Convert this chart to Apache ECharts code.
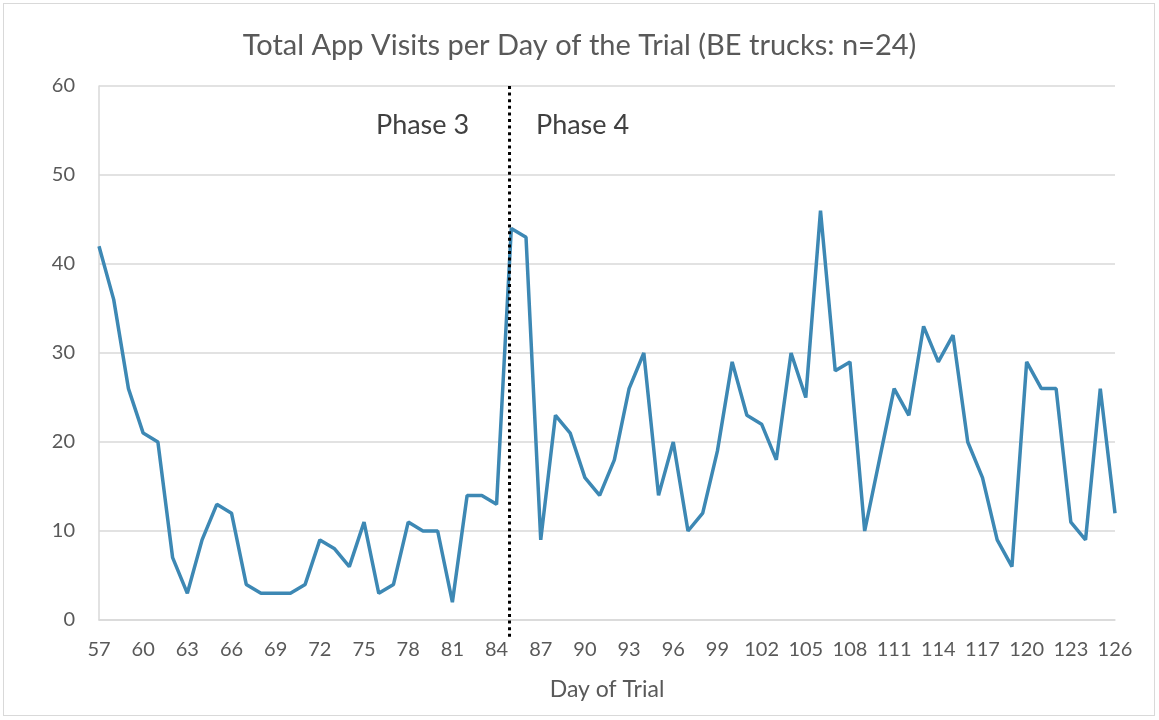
<!DOCTYPE html>
<html>
<head>
<meta charset="utf-8">
<title>Total App Visits per Day of the Trial</title>
<script src="https://cdn.jsdelivr.net/npm/echarts@6/dist/echarts.min.js"></script>
<style>
  html, body { margin:0; padding:0; background:#fff; }
  #main { position:absolute; left:0; top:0; width:1159px; height:720px; }
  #frame { position:absolute; left:3px; top:3px; width:1152px; height:713px; border:1px solid #d9d9d9; box-sizing:border-box; pointer-events:none; }
</style>
</head>
<body>
<div id="main"></div>
<div id="frame"></div>
<script>
// days of the trial (57..126)
var days = [57,58,59,60,61,62,63,64,65,66,67,68,69,70,71,72,73,74,75,76,77,78,79,80,81,82,83,84,85,86,87,88,89,90,91,92,93,94,95,96,97,98,99,100,101,102,103,104,105,106,107,108,109,110,111,112,113,114,115,116,117,118,119,120,121,122,123,124,125,126];
// total app visits per day
var visits = [42,36,26,21,20,7,3,9,13,12,4,3,3,3,4,9,8,6,11,3,4,11,10,10,2,14,14,13,44,43,9,23,21,16,14,18,26,30,14,20,10,12,19,29,23,22,18,30,25,46,28,29,10,18,26,23,33,29,32,20,16,9,6,29,26,26,11,9,26,12];
// dotted separator between phase 3 and phase 4 (runs a little below the axis)
var splitDay = [84.88, 84.88];
var splitY = [60, -1.9];
var phaseLabels = ['Phase 3', 'Phase 4'];

var font = 'Lato, "Open Sans", sans-serif';
var textColor = '#595959';

var seriesData = [];
for (var i = 0; i < days.length; i++) {
  seriesData.push([days[i], visits[i]]);
}
var splitData = [];
for (var j = 0; j < splitDay.length; j++) {
  splitData.push([splitDay[j], splitY[j]]);
}

var chart = echarts.init(document.getElementById('main'), null, {renderer:'canvas'});
var option = {
  animation: false,
  title: {
    text: 'Total App Visits per Day of the Trial (BE trucks: n=24)',
    left: 'center',
    top: 26,
    textStyle: { color: textColor, fontSize: 29, fontWeight: 'normal', fontFamily: font }
  },
  grid: { left: 99, right: 44, top: 86, bottom: 100 },
  xAxis: {
    type: 'value',
    min: 57,
    max: 126,
    interval: 3,
    name: 'Day of Trial',
    nameLocation: 'middle',
    nameGap: 58,
    nameTextStyle: { color: textColor, fontSize: 23, fontFamily: font },
    axisLine: { show: true, lineStyle: { color: '#d9d9d9', width: 1.5 } },
    axisTick: { show: false },
    splitLine: { show: false },
    axisLabel: { color: textColor, fontSize: 20, fontFamily: font, margin: 20 }
  },
  yAxis: {
    type: 'value',
    min: 0,
    max: 60,
    interval: 10,
    axisLine: { show: true, lineStyle: { color: '#d9d9d9', width: 1.5 } },
    axisTick: { show: false },
    splitLine: { lineStyle: { color: '#d9d9d9', width: 1.5 } },
    axisLabel: { color: textColor, fontSize: 20, fontFamily: font, margin: 24 }
  },
  series: [{
    type: 'line',
    data: seriesData,
    showSymbol: false,
    symbol: 'none',
    lineStyle: { color: '#3d88b4', width: 3.5 },
    z: 2
  }, {
    type: 'line',
    data: splitData,
    clip: false,
    silent: true,
    showSymbol: false,
    symbol: 'none',
    lineStyle: { color: '#000', width: 3, type: [3, 3.6] },
    z: 3
  }],
  graphic: [
    { type: 'text', left: 376, top: 112, style: { text: phaseLabels[0], fill: '#404040', fontSize: 27, fontFamily: font } },
    { type: 'text', left: 536, top: 112, style: { text: phaseLabels[1], fill: '#404040', fontSize: 27, fontFamily: font } }
  ]
};
chart.setOption(option);
</script>
</body>
</html>
